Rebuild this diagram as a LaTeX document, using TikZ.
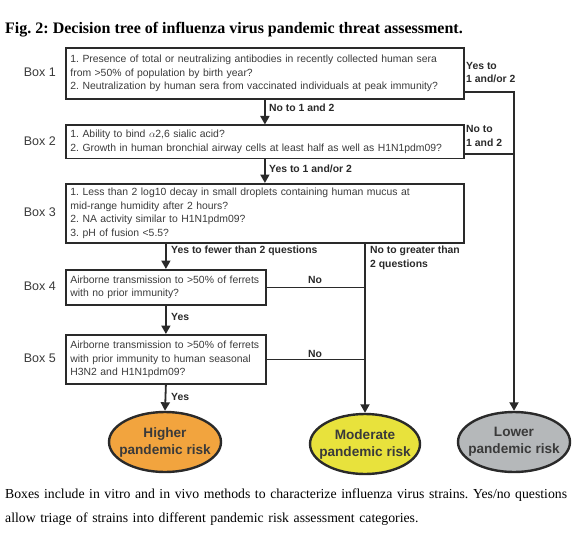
\documentclass[tikz,border=0pt]{standalone}
\usepackage{fontspec}
\setmainfont{Liberation Serif}
\setsansfont{Liberation Sans}
\usetikzlibrary{arrows.meta,shapes.geometric}
\definecolor{ln}{HTML}{2A2A2A}
\definecolor{txt}{HTML}{3A3A3A}
\definecolor{hicol}{HTML}{F2A43E}
\definecolor{modcol}{HTML}{E8E23C}
\definecolor{locol}{HTML}{B5B8BA}
\tikzset{
  qbox/.style={draw=ln, line width=1.8pt, rectangle, anchor=north west, inner xsep=4.5pt, inner ysep=0pt,
    align=left, text=txt, font=\sffamily\frenchspacing\fontsize{10.4}{13.5}\selectfont},
  risk/.style={ellipse, draw=ln, line width=2.4pt, minimum width=112pt, minimum height=60pt, inner sep=0pt},
  risktext/.style={align=center, inner sep=0pt, text=txt, font=\sffamily\bfseries\fontsize{13.6}{17}\selectfont},
  lbl/.style={anchor=west, inner sep=0pt, align=left, text=ln, font=\sffamily\bfseries\frenchspacing\fontsize{10.4}{13.5}\selectfont},
  boxlbl/.style={anchor=east, inner sep=0pt, text=txt, font=\sffamily\fontsize{12.5}{14}\selectfont},
  conn/.style={draw=ln, line width=1.8pt},
  arr/.style={conn, -{Triangle[length=8.5pt,width=9pt]}}
}
\begin{document}
\begin{tikzpicture}[x=1pt,y=-1pt]
\useasboundingbox (0,0) rectangle (585,540);
% title
\node[anchor=base west, inner sep=0pt, font=\bfseries\frenchspacing\fontsize{16}{18}\selectfont, text=black] (title) at (5,34)
  {Fig. 2: Decision tree of influenza virus pandemic threat assessment.};
% boxes
\node[qbox, text width=389pt, minimum height=51pt] (b1) at (65,47)
  {1. Presence of total or neutralizing antibodies in recently collected human sera\\
   from >50\% of population by birth year?\\
   2. Neutralization by human sera from vaccinated individuals at peak immunity?};
\node[qbox, text width=389pt, minimum height=33pt] (b2) at (65,124.5)
  {1. Ability to bind $\alpha$2,6 sialic acid?\\
   2. Growth in human bronchial airway cells at least half as well as H1N1pdm09?};
\node[qbox, text width=389pt, minimum height=59pt] (b3) at (65,183)
  {1. Less than 2 log10 decay in small droplets containing human mucus at\\
   mid-range humidity after 2 hours?\\
   2. NA activity similar to H1N1pdm09?\\
   3. pH of fusion <5.5?};
\node[qbox, text width=191pt, minimum height=35pt] (b4) at (65,269)
  {Airborne transmission to >50\% of ferrets\\
   with no prior immunity?};
\node[qbox, text width=191pt, minimum height=49pt] (b5) at (65,334)
  {Airborne transmission to >50\% of ferrets\\
   with prior immunity to human seasonal\\
   H3N2 and H1N1pdm09?};
% box labels
\node[boxlbl] (l1) at (56,72) {Box 1};
\node[boxlbl] (l2) at (56,141) {Box 2};
\node[boxlbl] (l3) at (56,212) {Box 3};
\node[boxlbl] (l4) at (56,286) {Box 4};
\node[boxlbl] (l5) at (56,358) {Box 5};
% outcomes
\node[risk, fill=hicol] (hi) at (165,442) {};
\node[risktext] (hit) at (hi.center) {Higher\\pandemic risk};
\node[risk, fill=modcol, minimum width=110pt] (mod) at (365,444) {};
\node[risktext] (modt) at (mod.center) {Moderate\\pandemic risk};
\node[risk, fill=locol, minimum width=112pt] (lo) at (514,442) {};
\node[risktext] (lot) at (lo.center) {Lower\\pandemic risk};
% connectors
\draw[arr] (b1.south) -- (b2.north);
\draw[arr] (b2.south) -- (b3.north);
\draw[arr] (b3.south -| b4.north) -- (b4.north);
\draw[arr] (b4.south) -- (b5.north);
\draw[arr] (b5.south) -- (hi.north);
\draw[arr] (b3.south -| mod.north) -- (mod.north);
\draw[conn] (b4.east) -- (b4.east -| mod.north);
\draw[conn] (b5.east) -- (b5.east -| mod.north);
\draw[arr] ([yshift=8pt]b1.south east) -| (lo.north);
\draw[conn] ([yshift=5pt]b2.south east) -- ([yshift=5pt]b2.south east -| lo.north);
% connector labels
\node[lbl] (t1) at (269,108) {No to 1 and 2};
\node[lbl] (t2) at (269,169) {Yes to 1 and/or 2};
\node[lbl] (t3) at (171,251) {Yes to fewer than 2 questions};
\node[lbl] (t4) at (370,258) {No to greater than\\2 questions};
\node[lbl] (t5) at (466,72.5) {Yes to\\1 and/or 2};
\node[lbl] (t6) at (466,136) {No to\\1 and 2};
\node[lbl, anchor=center] (t7) at (315,280) {No};
\node[lbl, anchor=center] (t8) at (315,354) {No};
\node[lbl] (t9) at (171,317) {Yes};
\node[lbl] (t10) at (171,397) {Yes};
% caption
\node[anchor=north west, inner sep=0pt, text width=580pt, align=left, text=black,
  font=\frenchspacing\fontsize{13.75}{23.5}\selectfont] (cap) at (5,489)
  {Boxes include in vitro and in vivo methods to characterize influenza virus strains. Yes/no questions\\
   allow triage of strains into different pandemic risk assessment categories.};
\end{tikzpicture}
\end{document}
